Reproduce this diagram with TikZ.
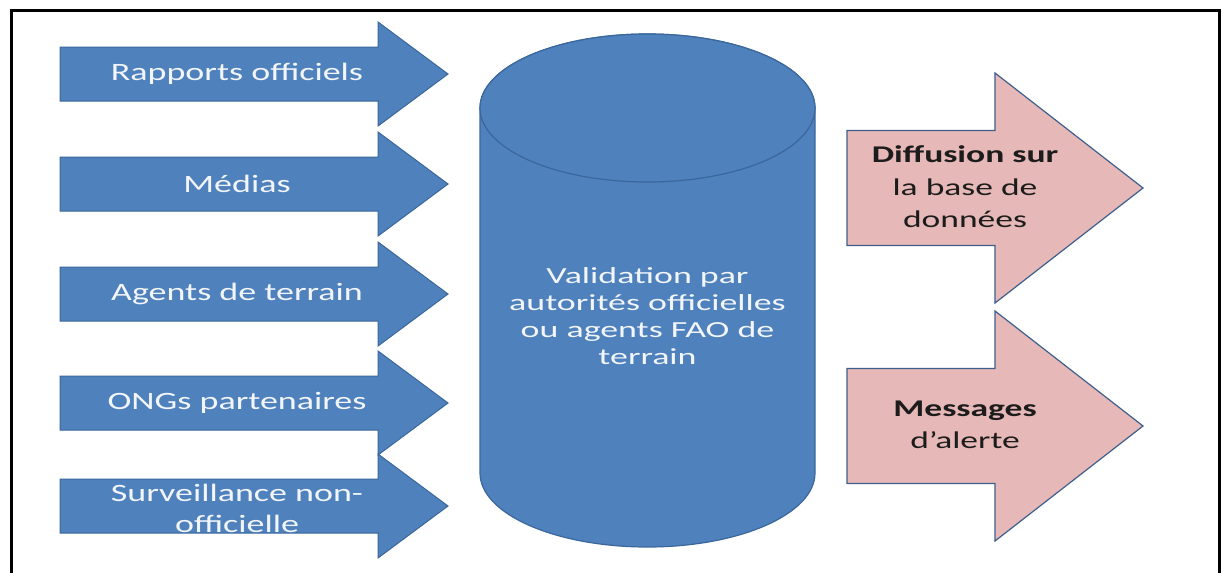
\documentclass[tikz,border=0pt]{standalone}
\usepackage{fontspec}
\setmainfont{Carlito}
\newfontfamily\srcfont{Carlito}[FakeStretch=1.44]
\newfontfamily\valfont{Carlito}[FakeStretch=1.56]
\newfontfamily\outfont{Carlito}[FakeStretch=1.48]

\definecolor{shapeblue}{HTML}{4F81BD}
\definecolor{blueedge}{HTML}{3A679C}
\definecolor{pinkfill}{HTML}{E6B9B8}
\definecolor{pinkedge}{HTML}{3E5F8C}
\definecolor{lighttext}{HTML}{F2F5FA}
\definecolor{darktext}{HTML}{1C1C1C}

% left-hand input arrow centred vertically on #1
\newcommand{\srcshape}[1]{%
  \path[srcarrow] (60,#1-27) -- (378,#1-27) -- (378,#1-52) -- (448,#1)
    -- (378,#1+52) -- (378,#1+27) -- (60,#1+27) -- cycle;}
% right-hand output arrow centred vertically on #1
\newcommand{\outshape}[1]{%
  \path[outarrow] (847,#1-57.5) -- (995,#1-57.5) -- (995,#1-115) -- (1143,#1)
    -- (995,#1+115) -- (995,#1+57.5) -- (847,#1+57.5) -- cycle;}

\begin{document}
\begin{tikzpicture}[x=1pt,y=-1pt,
  srcarrow/.style={fill=shapeblue,draw=blueedge,line width=1pt,line join=miter},
  outarrow/.style={fill=pinkfill,draw=pinkedge,line width=1.2pt,line join=miter},
  cylbody/.style={fill=shapeblue,draw=blueedge,line width=1.2pt},
  frameline/.style={draw=black,line width=3pt},
  srclabel/.style={text=lighttext,align=center,inner sep=0pt,
    font=\srcfont\fontsize{25}{31}\selectfont},
  vallabel/.style={text=lighttext,align=center,inner sep=0pt,
    font=\valfont\fontsize{23}{27}\selectfont},
  outlabel/.style={text=darktext,align=center,inner sep=0pt,
    font=\outfont\fontsize{24}{32.5}\selectfont}]

\useasboundingbox (0,0) rectangle (1221,573);
\fill[white] (0,0) rectangle (1221,573);

% open frame
\draw[frameline] (11.5,573) -- (11.5,10) -- (1219,10) -- (1219,573);

% input arrows
\srcshape{74}
\srcshape{184}
\srcshape{294}
\srcshape{403}
\srcshape{506}
\node[srclabel] (rapports) at (237,74) {Rapports officiels};
\node[srclabel] (medias) at (237,184) {Médias};
\node[srclabel] (agents) at (237,294) {Agents de terrain};
\node[srclabel] (ong) at (237,403) {ONGs partenaires};
\node[srclabel] (surv) at (237,508) {Surveillance non-\\officielle};

% validation cylinder
\path[cylbody] (480,108) -- (480,473)
  arc[start angle=180,end angle=0,x radius=167.5,y radius=74]
  -- (815,108)
  arc[start angle=0,end angle=-180,x radius=167.5,y radius=74] -- cycle;
\path[cylbody] (647.5,108) ellipse[x radius=167.5,y radius=74];
\node[vallabel] (valid) at (647.5,316)
  {Validation par\\autorités officielles\\ou agents FAO de\\terrain};

% output arrows
\outshape{188}
\outshape{426}
\node[outlabel] (diff) at (965,187)
  {\textbf{Diffusion sur}\\la base de\\données};
\node[outlabel] (msg) at (965,425) {\textbf{Messages}\\d’alerte};

\end{tikzpicture}
\end{document}
